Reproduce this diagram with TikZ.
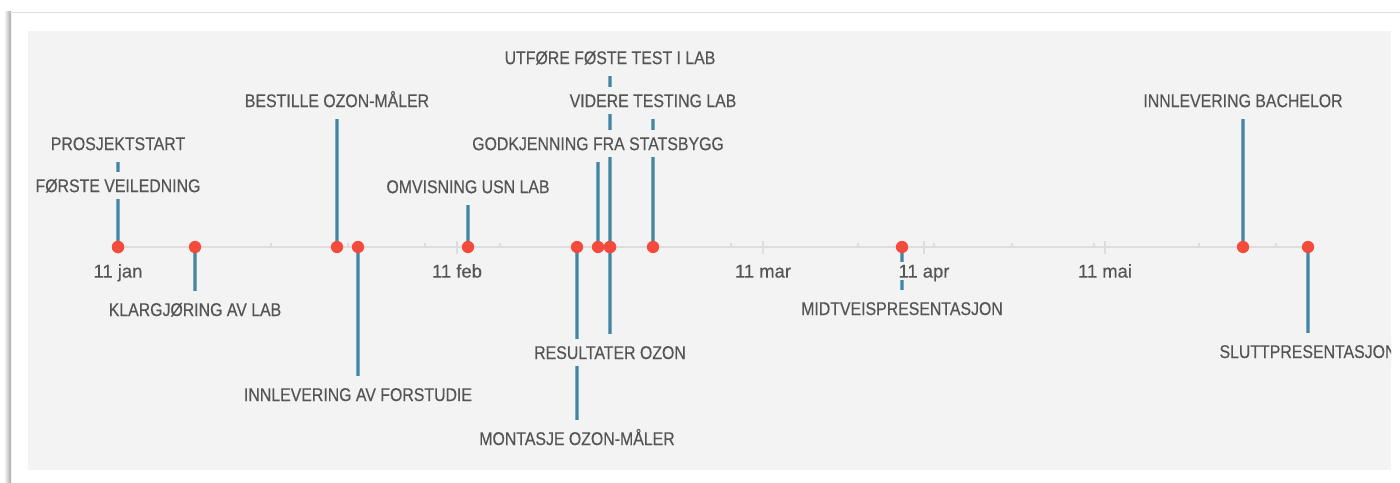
\documentclass[tikz,border=0pt]{standalone}
\usepackage{fontspec}
\setmainfont{Liberation Sans}[FakeBold=0.4]
\newfontfamily\eventfont{Liberation Sans}[FakeStretch=0.86, FakeBold=0.4]
\usetikzlibrary{positioning}

\definecolor{panel}{HTML}{F3F3F3}
\definecolor{stemlight}{HTML}{72AFC6}
\definecolor{stemdark}{HTML}{4A8399}
\definecolor{dotred}{HTML}{F54B3D}
\definecolor{labelgray}{HTML}{555555}
\definecolor{axisgray}{HTML}{DDDDDD}

\tikzset{
  event/.style={fill=panel, text=labelgray, font=\eventfont\fontsize{10.5}{12}\selectfont,
    text height=7.5pt, text depth=0pt, inner xsep=1pt, inner ysep=3.7pt},
  datelabel/.style={fill=panel, text=labelgray, font=\fontsize{10.5}{12}\selectfont,
    text height=7.5pt, text depth=0pt, inner xsep=1pt, inner ysep=1.4pt},
  stem/.style={stemlight, line width=2.3pt, postaction={draw=stemdark, line width=1pt}},
  milestone/.style={circle, fill=dotred, inner sep=0pt, minimum size=7pt},
  axisline/.style={axisgray, line width=1.1pt},
  tick/.style={axisgray, line width=0.6pt}
}

\begin{document}
\begin{tikzpicture}[x=0.02cm, y=-0.02cm]
  \useasboundingbox (0,0) rectangle (1400,483);

  % card and panel
  \fill[white] (0,0) rectangle (1400,483);
  \shade[left color=white, right color=black!35] (4,12) rectangle (11,483);
  \draw[black!12, line width=0.6pt] (10,12.5) -- (1400,12.5);
  \fill[panel] (28,31) rectangle (1391,470);

  \begin{scope}
    \clip (28,31) rectangle (1391,470);

    % axis with ticks
    \draw[axisline] (118,247) -- (1308,247);
    \draw[tick] (118,241) -- (118,254) (457,241) -- (457,254) (763,241) -- (763,254)
      (924,241) -- (924,254) (1105,241) -- (1105,254);
    \draw[tick] (271,243) -- (271,247) (348,243) -- (348,247) (425,243) -- (425,247)
      (500,243) -- (500,247) (731,243) -- (731,247) (858,243) -- (858,247)
      (934,243) -- (934,247) (1012,243) -- (1012,247) (1094,243) -- (1094,247)
      (1199,243) -- (1199,247) (1276,243) -- (1276,247);

    % points on the axis and stem ends
    \coordinate (p1) at (118,247);  \coordinate (t1) at (118,162);
    \coordinate (p2) at (118,247);  \coordinate (t2) at (118,200);
    \coordinate (p3) at (195,247);  \coordinate (t3) at (195,291);
    \coordinate (p4) at (337,247);  \coordinate (t4) at (337,119);
    \coordinate (p5) at (358,247);  \coordinate (t5) at (358,376);
    \coordinate (p6) at (468,247);  \coordinate (t6) at (468,205);
    \coordinate (p7) at (577,247);  \coordinate (t7) at (577,420);
    \coordinate (p8) at (598,247);  \coordinate (t8) at (598,162);
    \coordinate (p9) at (610,247);  \coordinate (t9) at (610,76);
    \coordinate (p10) at (610,247); \coordinate (t10) at (610,334);
    \coordinate (p11) at (653,247); \coordinate (t11) at (653,119);
    \coordinate (p12) at (902,247); \coordinate (t12) at (902,290);
    \coordinate (p13) at (1243,247); \coordinate (t13) at (1243,119);
    \coordinate (p14) at (1308,247); \coordinate (t14) at (1308,333);

    % stems
    \draw[stem] (p1) -- (t1);
    \draw[stem] (p2) -- (t2);
    \draw[stem] (p3) -- (t3);
    \draw[stem] (p4) -- (t4);
    \draw[stem] (p5) -- (t5);
    \draw[stem] (p6) -- (t6);
    \draw[stem] (p7) -- (t7);
    \draw[stem] (p8) -- (t8);
    \draw[stem] (p9) -- (t9);
    \draw[stem] (p10) -- (t10);
    \draw[stem] (p11) -- (t11);
    \draw[stem] (p12) -- (t12);
    \draw[stem] (p13) -- (t13);
    \draw[stem] (p14) -- (t14);

    % event labels
    \node[event, above=1mm of t1] (l1) {PROSJEKTSTART};
    \node[event, above=0.2mm of t2] (l2) {FØRSTE VEILEDNING};
    \node[event, below=1mm of t3] (l3) {KLARGJØRING AV LAB};
    \node[event, above=1mm of t4] (l4) {BESTILLE OZON-MÅLER};
    \node[event, below=1mm of t5] (l5) {INNLEVERING AV FORSTUDIE};
    \node[event, above=1mm of t6] (l6) {OMVISNING USN LAB};
    \node[event, below=1mm of t7] (l7) {MONTASJE OZON-MÅLER};
    \node[event, above=1mm of t8] (l8) {GODKJENNING FRA STATSBYGG};
    \node[event, above=1mm of t9] (l9) {UTFØRE FØSTE TEST I LAB};
    \node[event, below=1mm of t10] (l10) {RESULTATER OZON};
    \node[event, above=1mm of t11] (l11) {VIDERE TESTING LAB};
    \node[event, below=1mm of t12] (l12) {MIDTVEISPRESENTASJON};
    \node[event, above=1mm of t13] (l13) {INNLEVERING BACHELOR};
    \node[event, below=1mm of t14] (l14) {SLUTTPRESENTASJON};

    % month labels
    \node[datelabel] (jan) at (118,271) {11 jan};
    \node[datelabel] (feb) at (457,271) {11 feb};
    \node[datelabel] (mar) at (763,271) {11 mar};
    \node[datelabel] (apr) at (924,271) {11 apr};
    \node[datelabel] (mai) at (1105,271) {11 mai};

    % dots
    \node[milestone] (d1) at (p1) {};
    \node[milestone] (d2) at (p2) {};
    \node[milestone] (d3) at (p3) {};
    \node[milestone] (d4) at (p4) {};
    \node[milestone] (d5) at (p5) {};
    \node[milestone] (d6) at (p6) {};
    \node[milestone] (d7) at (p7) {};
    \node[milestone] (d8) at (p8) {};
    \node[milestone] (d9) at (p9) {};
    \node[milestone] (d10) at (p10) {};
    \node[milestone] (d11) at (p11) {};
    \node[milestone] (d12) at (p12) {};
    \node[milestone] (d13) at (p13) {};
    \node[milestone] (d14) at (p14) {};
  \end{scope}
\end{tikzpicture}
\end{document}
